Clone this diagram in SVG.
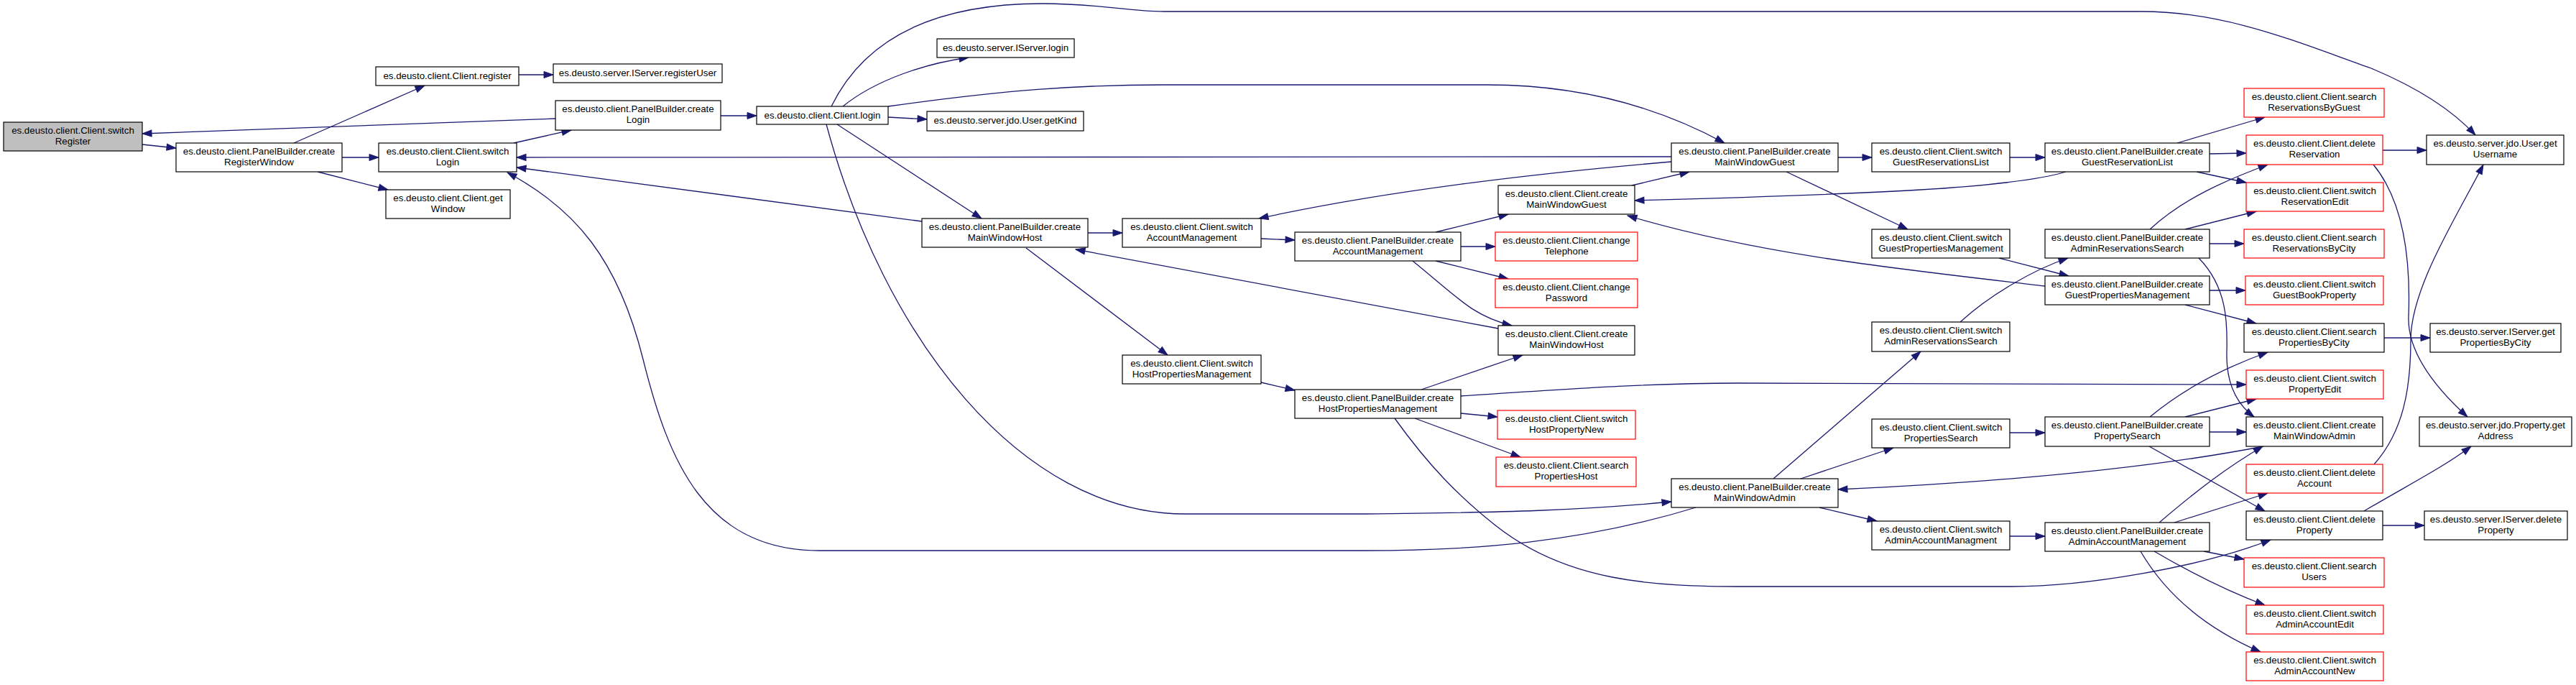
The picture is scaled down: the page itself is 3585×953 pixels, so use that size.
<svg xmlns="http://www.w3.org/2000/svg" width="3585" height="953" viewBox="0 0 3585 953">
<style>
.n rect{fill:#fff;stroke:#000;stroke-width:1.2}
.r rect{stroke:#f00}
.root rect{fill:#bfbfbf}
text{font-family:"Liberation Sans",Arial,sans-serif;font-size:13.3px;text-anchor:middle;fill:#000}
.e path{fill:none;stroke:#191970;stroke-width:1.3;marker-end:url(#a)}
</style>
<defs>
<marker id="a" markerUnits="userSpaceOnUse" markerWidth="16" markerHeight="12" refX="13" refY="4.5" orient="auto" overflow="visible">
<path d="M0,0 L13,4.5 L0,9 z" fill="#191970" stroke="#191970" stroke-width="1"/>
</marker>
</defs>
<rect width="3585" height="953" fill="#fff"/>
<g id="edges" class="e">
<path d="M198,201 L245,206"/>
<path d="M409,199 L591,119"/>
<path d="M476,219 L527,219"/>
<path d="M442,239 L540,264"/>
<path d="M722,104 L770,104"/>
<path d="M715,199 L795,181"/>
<path d="M773,165 L198,186"/>
<path d="M1003,161 L1053,161"/>
<path d="M1173,148 C1220,110 1290,88 1348,80"/>
<path d="M1236,163 L1290,166"/>
<path d="M1165,173 L1366,304"/>
<path d="M1236,148 C1400,125 1500,118 1620,118 L2070,118 C2200,118 2310,150 2400,199"/>
<path d="M1157,148 C1200,60 1290,5 1451,5 C1530,5 1570,16 1620,16 L2980,16 C3100,16 3200,60 3300,95 C3360,120 3410,150 3445,188"/>
<path d="M1514,324 L1562,324"/>
<path d="M1755,332 L1802,334"/>
<path d="M1428,345 L1625,494"/>
<path d="M1755,532 L1802,543"/>
<path d="M2085,457 L1497,347"/>
<path d="M2326,225 C2150,240 1930,265 1752,304"/>
<path d="M2326,218 L719,219"/>
<path d="M1283,308 L719,233"/>
<path d="M1998,323 L2099,298"/>
<path d="M2033,343 L2081,343"/>
<path d="M1998,363 L2099,388"/>
<path d="M1966,363 C2030,415 2050,440 2104,453"/>
<path d="M2271,258 L2351,239"/>
<path d="M2558,219 L2605,219"/>
<path d="M2486,239 L2655,319"/>
<path d="M2875,239 C2800,262 2600,270 2275,279"/>
<path d="M2846,398 C2650,375 2450,355 2265,300"/>
<path d="M2797,219 L2846,219"/>
<path d="M3030,199 L3152,163"/>
<path d="M3075,214 L3126,213"/>
<path d="M3057,239 L3126,254"/>
<path d="M3316,209 L3377,209"/>
<path d="M3303,229 C3345,280 3355,360 3352,440 C3350,490 3390,540 3434,580"/>
<path d="M3304,646 C3345,600 3355,540 3355,473 C3355,400 3420,300 3456,229"/>
<path d="M2992,319 C3040,275 3100,250 3156,229"/>
<path d="M3041,319 L3140,294"/>
<path d="M3075,339 L3123,339"/>
<path d="M3060,359 C3100,400 3100,450 3099,490 C3098,530 3110,560 3137,580"/>
<path d="M2782,359 L2879,384"/>
<path d="M3075,404 L3125,404"/>
<path d="M3041,424 L3140,450"/>
<path d="M3318,470 L3382,470"/>
<path d="M2728,448 C2770,410 2830,375 2878,359"/>
<path d="M2468,666 L2673,489"/>
<path d="M2506,666 L2635,623"/>
<path d="M2532,706 L2612,725"/>
<path d="M3150,621 C3000,650 2800,670 2558,681"/>
<path d="M3075,601 L3126,601"/>
<path d="M2992,580 C3040,540 3100,510 3156,490"/>
<path d="M3041,580 L3140,555"/>
<path d="M2991,621 L3152,711"/>
<path d="M2797,602 L2846,602"/>
<path d="M2033,551 C2200,540 2300,533 2420,533 L3126,535"/>
<path d="M1978,542 L2119,494"/>
<path d="M2033,575 L2084,580"/>
<path d="M1969,582 L2116,636"/>
<path d="M1941,582 C1990,650 2030,690 2080,730 C2180,810 2300,816 2431,816 L2800,816 C2900,816 3060,790 3160,751"/>
<path d="M2797,746 L2846,746"/>
<path d="M3005,727 C3060,680 3100,650 3149,621"/>
<path d="M3026,727 L3156,686"/>
<path d="M3067,767 L3123,778"/>
<path d="M2998,767 Q3080,815 3152,842"/>
<path d="M2979,767 C3010,820 3060,870 3146,907"/>
<path d="M3316,731 L3374,731"/>
<path d="M3290,711 C3360,670 3400,650 3439,621"/>
<path d="M1150,173 C1230,470 1420,715 1650,715 L1900,715 C2100,713 2200,710 2326,698"/>
<path d="M2360,706 C2200,755 2050,766 1900,766 L1140,766 C980,766 930,640 895,500 C860,360 800,290 706,240"/>
</g>
<g id="switchRegister" class="n root"><rect x="5" y="170" width="193" height="40"/><text x="101.5" y="186">es.deusto.client.Client.switch</text><text x="101.5" y="201">Register</text></g>
<g id="createRegisterWindow" class="n"><rect x="245" y="199" width="231" height="40"/><text x="360.5" y="215">es.deusto.client.PanelBuilder.create</text><text x="360.5" y="230">RegisterWindow</text></g>
<g id="register" class="n"><rect x="523" y="93" width="199" height="26"/><text x="622.5" y="110">es.deusto.client.Client.register</text></g>
<g id="switchLogin" class="n"><rect x="527" y="199" width="192" height="40"/><text x="623" y="215">es.deusto.client.Client.switch</text><text x="623" y="230">Login</text></g>
<g id="getWindow" class="n"><rect x="537" y="264" width="173" height="40"/><text x="623.5" y="280">es.deusto.client.Client.get</text><text x="623.5" y="295">Window</text></g>
<g id="registerUser" class="n"><rect x="770" y="89" width="235" height="26"/><text x="887.5" y="106">es.deusto.server.IServer.registerUser</text></g>
<g id="createLogin" class="n"><rect x="773" y="140" width="230" height="41"/><text x="888" y="156">es.deusto.client.PanelBuilder.create</text><text x="888" y="171">Login</text></g>
<g id="login" class="n"><rect x="1053" y="148" width="183" height="25"/><text x="1144.5" y="165">es.deusto.client.Client.login</text></g>
<g id="iserverLogin" class="n"><rect x="1304" y="54" width="191" height="26"/><text x="1399.5" y="71">es.deusto.server.IServer.login</text></g>
<g id="getKind" class="n"><rect x="1290" y="155" width="218" height="27"/><text x="1399" y="172">es.deusto.server.jdo.User.getKind</text></g>
<g id="pbMainWindowHost" class="n"><rect x="1283" y="304" width="231" height="40"/><text x="1398.5" y="320">es.deusto.client.PanelBuilder.create</text><text x="1398.5" y="335">MainWindowHost</text></g>
<g id="switchAccountManagement" class="n"><rect x="1562" y="304" width="193" height="40"/><text x="1658.5" y="320">es.deusto.client.Client.switch</text><text x="1658.5" y="335">AccountManagement</text></g>
<g id="switchHostPropertiesManagement" class="n"><rect x="1562" y="494" width="193" height="40"/><text x="1658.5" y="510">es.deusto.client.Client.switch</text><text x="1658.5" y="525">HostPropertiesManagement</text></g>
<g id="pbAccountManagement" class="n"><rect x="1802" y="323" width="231" height="40"/><text x="1917.5" y="339">es.deusto.client.PanelBuilder.create</text><text x="1917.5" y="354">AccountManagement</text></g>
<g id="pbHostPropertiesManagement" class="n"><rect x="1802" y="542" width="231" height="40"/><text x="1917.5" y="558">es.deusto.client.PanelBuilder.create</text><text x="1917.5" y="573">HostPropertiesManagement</text></g>
<g id="clMainWindowGuest" class="n"><rect x="2085" y="258" width="190" height="40"/><text x="2180" y="274">es.deusto.client.Client.create</text><text x="2180" y="289">MainWindowGuest</text></g>
<g id="changeTelephone" class="n r"><rect x="2081" y="323" width="198" height="40"/><text x="2180" y="339">es.deusto.client.Client.change</text><text x="2180" y="354">Telephone</text></g>
<g id="changePassword" class="n r"><rect x="2081" y="388" width="198" height="40"/><text x="2180" y="404">es.deusto.client.Client.change</text><text x="2180" y="419">Password</text></g>
<g id="clMainWindowHost" class="n"><rect x="2085" y="453" width="190" height="41"/><text x="2180" y="469">es.deusto.client.Client.create</text><text x="2180" y="484">MainWindowHost</text></g>
<g id="switchHostPropertyNew" class="n r"><rect x="2084" y="571" width="192" height="40"/><text x="2180" y="587">es.deusto.client.Client.switch</text><text x="2180" y="602">HostPropertyNew</text></g>
<g id="searchPropertiesHost" class="n r"><rect x="2082" y="636" width="195" height="41"/><text x="2179.5" y="652">es.deusto.client.Client.search</text><text x="2179.5" y="667">PropertiesHost</text></g>
<g id="pbMainWindowGuest" class="n"><rect x="2326" y="199" width="232" height="40"/><text x="2442" y="215">es.deusto.client.PanelBuilder.create</text><text x="2442" y="230">MainWindowGuest</text></g>
<g id="pbMainWindowAdmin" class="n"><rect x="2326" y="666" width="232" height="40"/><text x="2442" y="682">es.deusto.client.PanelBuilder.create</text><text x="2442" y="697">MainWindowAdmin</text></g>
<g id="switchGuestReservationsList" class="n"><rect x="2605" y="199" width="192" height="40"/><text x="2701" y="215">es.deusto.client.Client.switch</text><text x="2701" y="230">GuestReservationsList</text></g>
<g id="switchGuestPropertiesManagement" class="n"><rect x="2605" y="319" width="192" height="40"/><text x="2701" y="335">es.deusto.client.Client.switch</text><text x="2701" y="350">GuestPropertiesManagement</text></g>
<g id="switchAdminReservationsSearch" class="n"><rect x="2605" y="448" width="192" height="41"/><text x="2701" y="464">es.deusto.client.Client.switch</text><text x="2701" y="479">AdminReservationsSearch</text></g>
<g id="switchPropertiesSearch" class="n"><rect x="2605" y="583" width="192" height="40"/><text x="2701" y="599">es.deusto.client.Client.switch</text><text x="2701" y="614">PropertiesSearch</text></g>
<g id="switchAdminAccountManagment" class="n"><rect x="2605" y="725" width="192" height="40"/><text x="2701" y="741">es.deusto.client.Client.switch</text><text x="2701" y="756">AdminAccountManagment</text></g>
<g id="pbGuestReservationList" class="n"><rect x="2846" y="199" width="229" height="40"/><text x="2960.5" y="215">es.deusto.client.PanelBuilder.create</text><text x="2960.5" y="230">GuestReservationList</text></g>
<g id="pbAdminReservationsSearch" class="n"><rect x="2846" y="319" width="229" height="40"/><text x="2960.5" y="335">es.deusto.client.PanelBuilder.create</text><text x="2960.5" y="350">AdminReservationsSearch</text></g>
<g id="pbGuestPropertiesManagement" class="n"><rect x="2846" y="384" width="229" height="40"/><text x="2960.5" y="400">es.deusto.client.PanelBuilder.create</text><text x="2960.5" y="415">GuestPropertiesManagement</text></g>
<g id="pbPropertySearch" class="n"><rect x="2846" y="580" width="229" height="41"/><text x="2960.5" y="596">es.deusto.client.PanelBuilder.create</text><text x="2960.5" y="611">PropertySearch</text></g>
<g id="pbAdminAccountManagement" class="n"><rect x="2846" y="727" width="229" height="40"/><text x="2960.5" y="743">es.deusto.client.PanelBuilder.create</text><text x="2960.5" y="758">AdminAccountManagement</text></g>
<g id="searchReservationsByGuest" class="n r"><rect x="3123" y="123" width="195" height="40"/><text x="3220.5" y="139">es.deusto.client.Client.search</text><text x="3220.5" y="154">ReservationsByGuest</text></g>
<g id="deleteReservation" class="n r"><rect x="3126" y="188" width="190" height="41"/><text x="3221" y="204">es.deusto.client.Client.delete</text><text x="3221" y="219">Reservation</text></g>
<g id="switchReservationEdit" class="n r"><rect x="3126" y="254" width="191" height="40"/><text x="3221.5" y="270">es.deusto.client.Client.switch</text><text x="3221.5" y="285">ReservationEdit</text></g>
<g id="searchReservationsByCity" class="n r"><rect x="3123" y="319" width="195" height="40"/><text x="3220.5" y="335">es.deusto.client.Client.search</text><text x="3220.5" y="350">ReservationsByCity</text></g>
<g id="switchGuestBookProperty" class="n r"><rect x="3125" y="384" width="192" height="40"/><text x="3221" y="400">es.deusto.client.Client.switch</text><text x="3221" y="415">GuestBookProperty</text></g>
<g id="searchPropertiesByCity" class="n"><rect x="3123" y="450" width="195" height="40"/><text x="3220.5" y="466">es.deusto.client.Client.search</text><text x="3220.5" y="481">PropertiesByCity</text></g>
<g id="switchPropertyEdit" class="n r"><rect x="3126" y="515" width="191" height="40"/><text x="3221.5" y="531">es.deusto.client.Client.switch</text><text x="3221.5" y="546">PropertyEdit</text></g>
<g id="clMainWindowAdmin" class="n"><rect x="3126" y="580" width="190" height="41"/><text x="3221" y="596">es.deusto.client.Client.create</text><text x="3221" y="611">MainWindowAdmin</text></g>
<g id="deleteAccount" class="n r"><rect x="3126" y="646" width="190" height="40"/><text x="3221" y="662">es.deusto.client.Client.delete</text><text x="3221" y="677">Account</text></g>
<g id="deleteProperty" class="n"><rect x="3126" y="711" width="190" height="40"/><text x="3221" y="727">es.deusto.client.Client.delete</text><text x="3221" y="742">Property</text></g>
<g id="searchUsers" class="n r"><rect x="3123" y="776" width="195" height="41"/><text x="3220.5" y="792">es.deusto.client.Client.search</text><text x="3220.5" y="807">Users</text></g>
<g id="switchAdminAccountEdit" class="n r"><rect x="3126" y="842" width="191" height="40"/><text x="3221.5" y="858">es.deusto.client.Client.switch</text><text x="3221.5" y="873">AdminAccountEdit</text></g>
<g id="switchAdminAccountNew" class="n r"><rect x="3126" y="907" width="191" height="40"/><text x="3221.5" y="923">es.deusto.client.Client.switch</text><text x="3221.5" y="938">AdminAccountNew</text></g>
<g id="getUsername" class="n"><rect x="3377" y="188" width="191" height="41"/><text x="3472.5" y="204">es.deusto.server.jdo.User.get</text><text x="3472.5" y="219">Username</text></g>
<g id="getPropertiesByCity" class="n"><rect x="3382" y="450" width="182" height="40"/><text x="3473" y="466">es.deusto.server.IServer.get</text><text x="3473" y="481">PropertiesByCity</text></g>
<g id="getAddress" class="n"><rect x="3367" y="580" width="212" height="41"/><text x="3473" y="596">es.deusto.server.jdo.Property.get</text><text x="3473" y="611">Address</text></g>
<g id="deleteServerProperty" class="n"><rect x="3374" y="711" width="199" height="40"/><text x="3473.5" y="727">es.deusto.server.IServer.delete</text><text x="3473.5" y="742">Property</text></g>
</svg>
